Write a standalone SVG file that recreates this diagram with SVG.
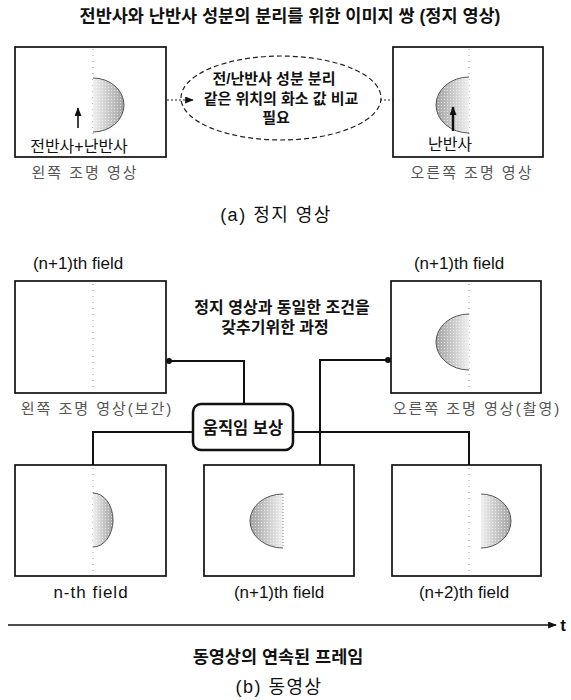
<svg xmlns="http://www.w3.org/2000/svg" width="571" height="700" viewBox="0 0 571 700">
  <style>
    .box { fill: #ffffff; stroke: #111; stroke-width: 1.7; }
    .guide { stroke: #8a8a8a; stroke-width: 1; stroke-dasharray: 1 5; fill: none; }
    .edge { stroke: #555; stroke-width: 1; }
    .conn { stroke: #111; stroke-width: 2; fill: none; }
    .title { font-family: "Liberation Sans", "Noto Sans CJK KR", sans-serif; font-weight: bold; fill: #111; text-anchor: middle; }
    .lbl { font-family: "Liberation Sans", "Noto Sans CJK KR", sans-serif; fill: #111; text-anchor: middle; }
    .faded { font-family: "Liberation Sans", "Noto Sans CJK KR", sans-serif; fill: #555; text-anchor: middle; font-size: 15px; letter-spacing: 2px; }
  </style>
  <defs>
    <linearGradient id="shadeR" x1="0" y1="0" x2="1" y2="0">
      <stop offset="0" stop-color="#f0f0f0"/>
      <stop offset="1" stop-color="#a2a2a2"/>
    </linearGradient>
    <linearGradient id="shadeL" x1="1" y1="0" x2="0" y2="0">
      <stop offset="0" stop-color="#f0f0f0"/>
      <stop offset="1" stop-color="#a2a2a2"/>
    </linearGradient>
    <pattern id="stip" width="3" height="3" patternUnits="userSpaceOnUse">
      <rect x="0" y="0" width="1" height="1" fill="#ffffff" fill-opacity="0.6"/>
    </pattern>
    <marker id="ah" viewBox="0 0 10 8" refX="9" refY="4" markerWidth="9" markerHeight="7" markerUnits="userSpaceOnUse" orient="auto">
      <path d="M0,0 L10,4 L0,8 z" fill="#111"/>
    </marker>
    <marker id="dot" viewBox="0 0 6 6" refX="3" refY="3" markerWidth="6" markerHeight="6" markerUnits="userSpaceOnUse">
      <circle cx="3" cy="3" r="3" fill="#111"/>
    </marker>
  </defs>

  <rect width="571" height="700" fill="#ffffff"/>

  <text id="title-a" class="title" x="290" y="22" font-size="17.5">전반사와 난반사 성분의 분리를 위한 이미지 쌍 (정지 영상)</text>

  <!-- (a) still image -->
  <g id="still-left">
    <rect class="box" x="15" y="47" width="151" height="110"/>
    <line class="guide" x1="93" y1="49" x2="93" y2="155"/>
    <path d="M93,78 A31,27 0 0 1 93,132 Z" fill="url(#shadeR)"/>
    <path d="M93,78 A31,27 0 0 1 93,132 Z" fill="url(#stip)"/>
    <path class="edge" d="M93,78 A31,27 0 0 1 93,132" fill="none"/>
    <line x1="78" y1="128" x2="78" y2="108" stroke="#111" stroke-width="1.6" marker-end="url(#ah)"/>
    <text class="lbl" x="79" y="152" font-size="16">전반사+난반사</text>
    <text class="faded" x="85" y="178">왼쪽 조명 영상</text>
  </g>

  <g id="still-right">
    <rect class="box" x="393" y="47" width="150" height="110"/>
    <line class="guide" x1="469" y1="49" x2="469" y2="155"/>
    <path d="M469,77 A33,28 0 0 0 469,133 Z" fill="url(#shadeL)"/>
    <path d="M469,77 A33,28 0 0 0 469,133 Z" fill="url(#stip)"/>
    <path class="edge" d="M469,77 A33,28 0 0 0 469,133" fill="none"/>
    <line x1="453" y1="131" x2="453" y2="107" stroke="#111" stroke-width="2.4" marker-end="url(#ah)"/>
    <text class="lbl" x="450" y="150" font-size="16">난반사</text>
    <text class="faded" x="472" y="178">오른쪽 조명 영상</text>
  </g>

  <g id="compare-note">
    <ellipse cx="281" cy="98" rx="100" ry="42" fill="none" stroke="#222" stroke-width="1.2" stroke-dasharray="5 3"/>
    <text class="title" x="274" y="84" font-size="15">전/난반사 성분 분리</text>
    <text class="title" x="281" y="104" font-size="15">같은 위치의 화소 값 비교</text>
    <text class="title" x="276" y="123" font-size="15">필요</text>
  </g>

  <g id="compare-links">
    <line x1="167" y1="100" x2="193" y2="100" stroke="#222" stroke-width="1.2" stroke-dasharray="2 2" marker-end="url(#ah)"/>
    <line x1="380" y1="100" x2="393" y2="100" stroke="#222" stroke-width="1.2" stroke-dasharray="2 2"/>
  </g>

  <text id="caption-a" class="lbl" x="276" y="221" font-size="18" letter-spacing="1.5">(a) 정지 영상</text>

  <!-- (b) video -->
  <g id="field-interp">
    <text class="lbl" x="78" y="269" font-size="17">(n+1)th field</text>
    <rect class="box" x="15" y="281" width="151" height="112"/>
    <line class="guide" x1="93" y1="284" x2="93" y2="390"/>
    <text class="faded" x="97" y="414">왼쪽 조명 영상(보간)</text>
  </g>

  <g id="field-captured">
    <text class="lbl" x="459" y="269" font-size="17">(n+1)th field</text>
    <rect class="box" x="391" y="281" width="150" height="112"/>
    <line class="guide" x1="469" y1="284" x2="469" y2="390"/>
    <path d="M469,314 A33,28 0 0 0 469,370 Z" fill="url(#shadeL)"/>
    <path d="M469,314 A33,28 0 0 0 469,370 Z" fill="url(#stip)"/>
    <path class="edge" d="M469,314 A33,28 0 0 0 469,370" fill="none"/>
    <text class="faded" x="477" y="414">오른쪽 조명 영상(촬영)</text>
  </g>

  <g id="process-note">
    <text class="title" x="282" y="313" font-size="16">정지 영상과 동일한 조건을</text>
    <text class="title" x="275" y="333" font-size="16">갖추기위한 과정</text>
  </g>

  <g id="connectors">
    <path class="conn" d="M244,404 V361 H169" marker-end="url(#dot)"/>
    <path class="conn" d="M320,465 V360 H388" marker-end="url(#dot)"/>
    <path class="conn" d="M193,432 H93 V465"/>
    <path class="conn" d="M293,432 H469 V465"/>
    <line x1="8" y1="625" x2="556" y2="625" stroke="#111" stroke-width="1.3" marker-end="url(#ah)"/>
  </g>

  <g id="motion-comp">
    <rect x="193" y="404" width="100" height="46" rx="8" fill="#ffffff" stroke="#111" stroke-width="2.5"/>
    <text class="title" x="243" y="434" font-size="16.5">움직임 보상</text>
  </g>

  <g id="field-n">
    <rect class="box" x="15" y="465" width="151" height="111"/>
    <line class="guide" x1="93" y1="468" x2="93" y2="573"/>
    <path d="M93,493 A20,27 0 0 1 93,547 Z" fill="url(#shadeR)"/>
    <path d="M93,493 A20,27 0 0 1 93,547 Z" fill="url(#stip)"/>
    <path class="edge" d="M93,493 A20,27 0 0 1 93,547" fill="none"/>
    <text class="lbl" x="91" y="598" font-size="17" letter-spacing="1">n-th field</text>
  </g>

  <g id="field-n1">
    <rect class="box" x="204" y="465" width="150" height="111"/>
    <path d="M283,494 A33,27 0 0 0 283,548 Z" fill="url(#shadeL)"/>
    <path d="M283,494 A33,27 0 0 0 283,548 Z" fill="url(#stip)"/>
    <path class="edge" d="M283,494 A33,27 0 0 0 283,548" fill="none"/>
    <line class="guide" x1="283" y1="494" x2="283" y2="548" style="stroke-dasharray:1 2"/>
    <text class="lbl" x="279" y="598" font-size="17">(n+1)th field</text>
  </g>

  <g id="field-n2">
    <rect class="box" x="392" y="465" width="149" height="111"/>
    <line class="guide" x1="469" y1="468" x2="469" y2="573"/>
    <path d="M481,494 A30,27 0 0 1 481,548 Z" fill="url(#shadeR)"/>
    <path d="M481,494 A30,27 0 0 1 481,548 Z" fill="url(#stip)"/>
    <path class="edge" d="M481,494 A30,27 0 0 1 481,548" fill="none"/>
    <text class="lbl" x="464" y="598" font-size="17">(n+2)th field</text>
  </g>

  <text id="time-label" class="lbl" x="563" y="631" font-size="17" font-weight="bold">t</text>
  <text id="frames-label" class="title" x="278" y="663" font-size="17.5">동영상의 연속된 프레임</text>
  <text id="caption-b" class="lbl" x="279" y="693" font-size="18" letter-spacing="1.5">(b) 동영상</text>
</svg>
